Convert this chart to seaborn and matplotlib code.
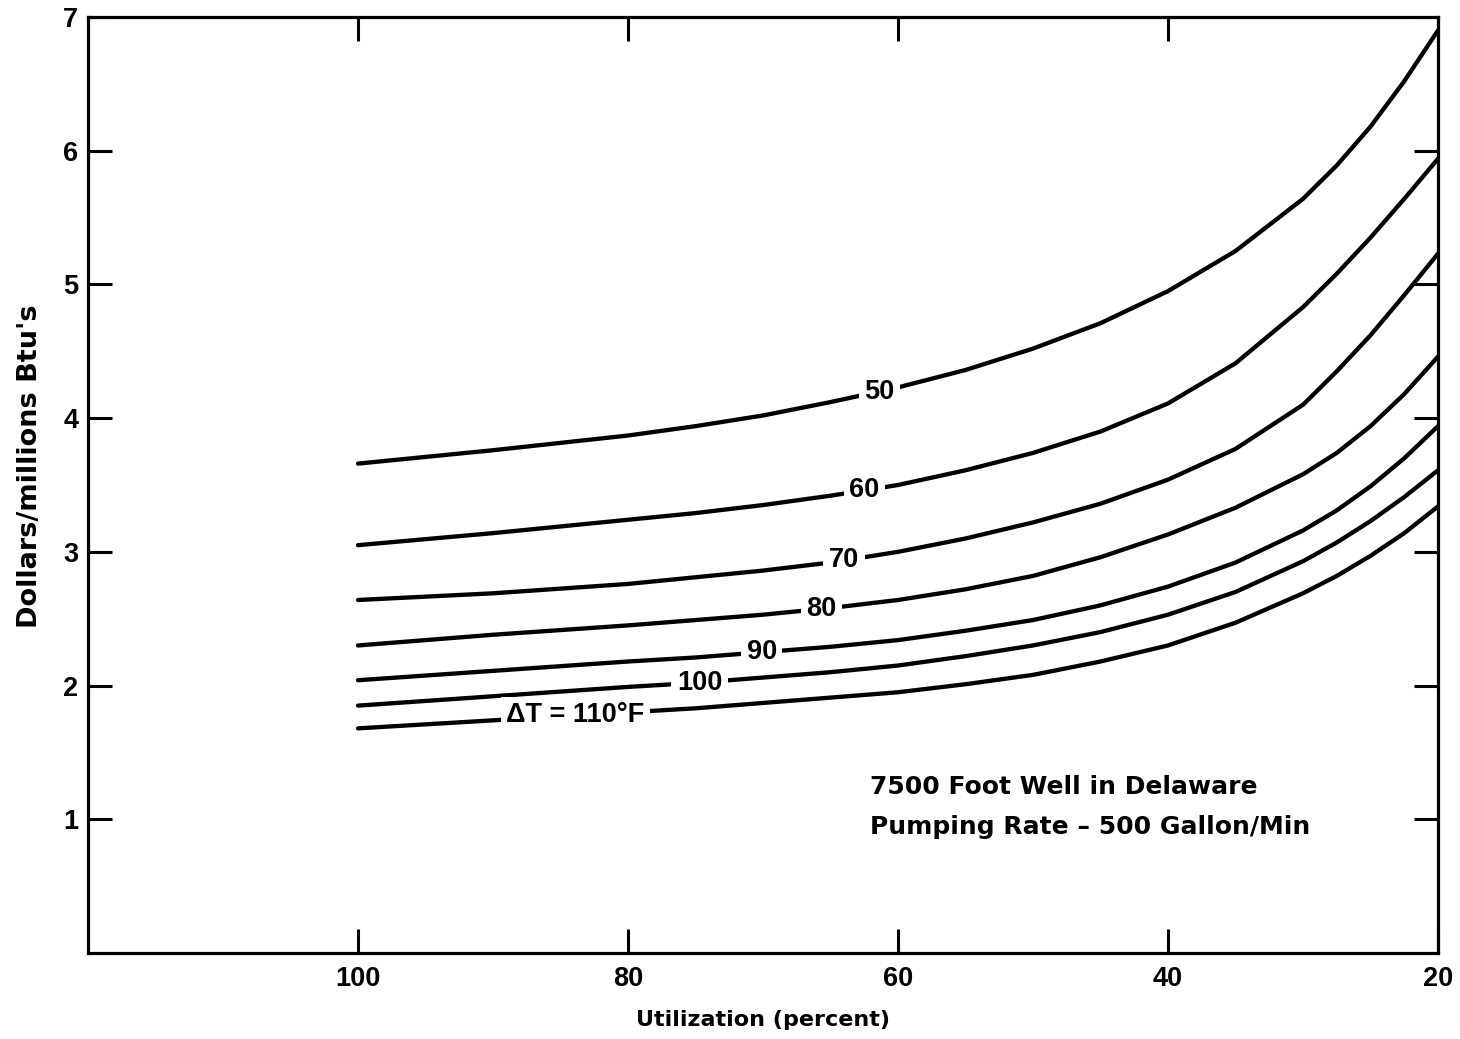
import numpy as np
import pandas as pd
import matplotlib
matplotlib.use("Agg")
import matplotlib.pyplot as plt
import seaborn as sns

# ---- data ----
utilization = [100, 90, 80, 75, 70, 65, 60, 55, 50, 45, 40, 35, 30, 27.5, 25, 22.5, 20]
cost_dt50 = [3.66, 3.76, 3.87, 3.94, 4.02, 4.12, 4.23, 4.36, 4.52, 4.71, 4.95, 5.25, 5.64, 5.89, 6.18, 6.52, 6.90]
cost_dt60 = [3.05, 3.14, 3.24, 3.29, 3.35, 3.42, 3.50, 3.61, 3.74, 3.90, 4.11, 4.41, 4.83, 5.08, 5.35, 5.64, 5.94]
cost_dt70 = [2.64, 2.69, 2.76, 2.81, 2.86, 2.92, 3.00, 3.10, 3.22, 3.36, 3.54, 3.77, 4.10, 4.35, 4.62, 4.92, 5.23]
cost_dt80 = [2.30, 2.38, 2.45, 2.49, 2.53, 2.58, 2.64, 2.72, 2.82, 2.96, 3.13, 3.33, 3.58, 3.74, 3.94, 4.18, 4.46]
cost_dt90 = [2.04, 2.11, 2.18, 2.21, 2.25, 2.29, 2.34, 2.41, 2.49, 2.60, 2.74, 2.92, 3.16, 3.31, 3.49, 3.70, 3.94]
cost_dt100 = [1.85, 1.92, 1.99, 2.02, 2.06, 2.10, 2.15, 2.22, 2.30, 2.40, 2.53, 2.70, 2.93, 3.07, 3.23, 3.41, 3.61]
cost_dt110 = [1.68, 1.74, 1.80, 1.83, 1.87, 1.91, 1.95, 2.01, 2.08, 2.18, 2.30, 2.47, 2.69, 2.82, 2.97, 3.14, 3.34]

delta_t = [50, 60, 70, 80, 90, 100, 110]
curve_labels = ["50", "60", "70", "80", "90", "100", "ΔT = 110°F"]
x_ticks = [100, 80, 60, 40, 20]
y_ticks = [1, 2, 3, 4, 5, 6, 7]
note_lines = ["7500 Foot Well in Delaware", "Pumping Rate – 500 Gallon/Min"]
x_title = "Utilization (percent)"
y_title = "Dollars/millions Btu's"

series = [cost_dt50, cost_dt60, cost_dt70, cost_dt80, cost_dt90, cost_dt100, cost_dt110]
df = pd.concat(
    [pd.DataFrame({"util": utilization, "cost": vals, "dt": dt}) for dt, vals in zip(delta_t, series)],
    ignore_index=True,
)

# ---- style ----
sns.set_style("ticks")
plt.rcParams["font.family"] = ["Liberation Sans", "DejaVu Sans"]
plt.rcParams["font.weight"] = "bold"
plt.rcParams["text.color"] = "black"
plt.rcParams["axes.labelcolor"] = "black"
plt.rcParams["xtick.color"] = "black"
plt.rcParams["ytick.color"] = "black"

fig = plt.figure(figsize=(14.6, 10.39), dpi=100)
ax = fig.add_axes([88 / 1460, 1 - 953 / 1039, 1350 / 1460, 936 / 1039])

sns.lineplot(
    data=df, x="util", y="cost", hue="dt", units="dt", estimator=None, sort=False,
    palette={d: "black" for d in delta_t}, linewidth=3.1, legend=False, ax=ax,
    solid_capstyle="round", solid_joinstyle="round",
)

ax.set_xlim(120, 20)
ax.set_ylim(0, 7)
ax.set_xticks(x_ticks)
ax.set_xticklabels([str(t) for t in x_ticks])
ax.set_yticks(y_ticks)
ax.set_yticklabels([str(t) for t in y_ticks])

for s in ax.spines.values():
    s.set_linewidth(2.3)
    s.set_color("black")
    s.set_visible(True)

ax.tick_params(axis="both", which="major", direction="in", length=17, width=2.2,
               top=True, right=True, labelsize=19.5, colors="black")
ax.tick_params(axis="x", pad=9)
ax.tick_params(axis="y", pad=7)
for lab in ax.get_xticklabels() + ax.get_yticklabels():
    lab.set_fontweight("bold")
    lab.set_color("black")

ax.set_xlabel(x_title, fontsize=16, fontweight="bold", family="DejaVu Sans", color="black")
ax.set_ylabel(y_title, fontsize=19.5, fontweight="bold", family="DejaVu Sans", color="black")
ax.xaxis.set_label_coords(0.5, -0.061)
ax.yaxis.set_label_coords(-0.033, 0.52)

# inline curve labels
label_x = [61.4, 62.5, 64.0, 65.7, 70.1, 74.7, 83.9]
ux = np.array(utilization)[::-1]
for lx, txt, vals in zip(label_x, curve_labels, series):
    ly = np.interp(lx, ux, np.array(vals)[::-1])
    ax.text(lx, ly, txt, ha="center", va="center", fontsize=19.5, fontweight="bold",
            color="black", zorder=5,
            bbox=dict(boxstyle="square,pad=0.2", fc="white", ec="none"))

# note text
ax.text(62.1, 1.24, note_lines[0], ha="left", va="center", fontsize=18,
        fontweight="bold", family="DejaVu Sans", color="black")
ax.text(62.1, 0.94, note_lines[1], ha="left", va="center", fontsize=18,
        fontweight="bold", family="DejaVu Sans", color="black")

fig.savefig("out.png", dpi=100, facecolor="white")
